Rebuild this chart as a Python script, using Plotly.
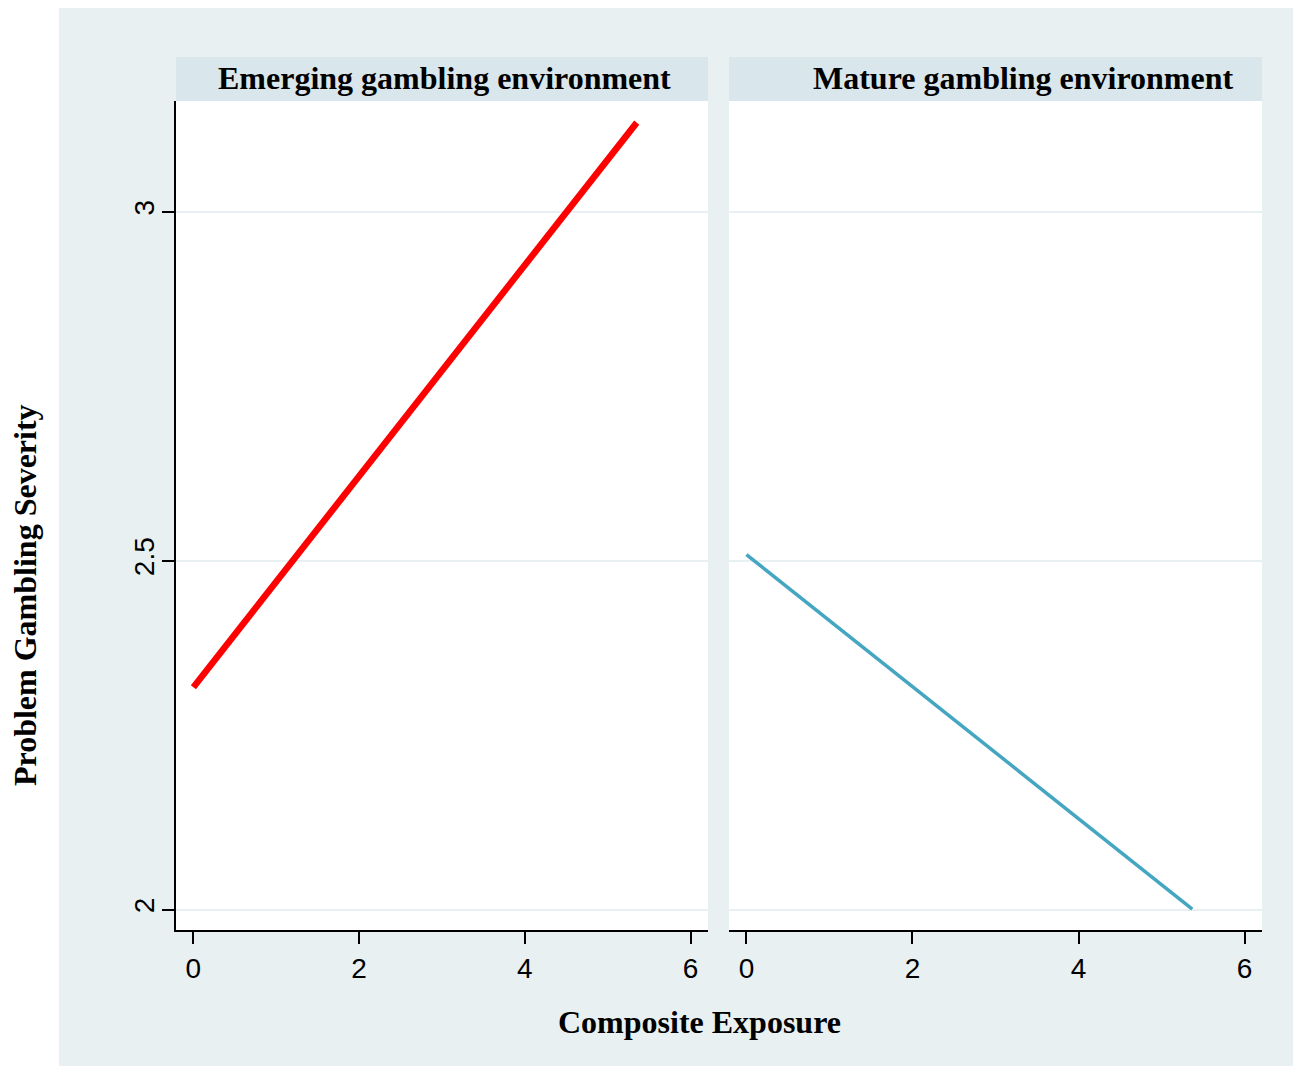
import plotly.graph_objects as go
from plotly.subplots import make_subplots

# Data
panels = ["Emerging gambling environment", "Mature gambling environment"]
emerging_x = [0.0, 5.35]
emerging_y = [2.319, 3.128]
mature_x = [0.0, 5.37]
mature_y = [2.509, 2.001]
x_ticks = [0, 2, 4, 6]
y_ticks = [2, 2.5, 3]
y_ticklabels = ["2", "2.5", "3"]

OFF = 8  # page body margin
W, H = 1301 - OFF, 1066 - OFF
ML, MR, MT, MB = 176 - OFF, 39, 101 - OFF, 136
PW = W - ML - MR
PH = H - MT - MB

def px_x(p):
    return (p - OFF - ML) / PW

def px_y(p):
    return (H - MB - (p - OFF)) / PH

BG = "#e8f0f2"
STRIP = "#d9e6ec"
GRID = "#e8f0f2"

fig = make_subplots(rows=1, cols=2, shared_yaxes=False, horizontal_spacing=0.0)

fig.add_trace(go.Scatter(x=emerging_x, y=emerging_y, mode="lines",
                         line=dict(color="#ff0000", width=6.5), showlegend=False,
                         hoverinfo="skip"), row=1, col=1)
fig.add_trace(go.Scatter(x=mature_x, y=mature_y, mode="lines",
                         line=dict(color="#45a6c2", width=3.5), showlegend=False,
                         hoverinfo="skip"), row=1, col=2)

d1 = [0, px_x(708)]
d2 = [px_x(729), 1]
xr = [-0.21, 6.21]
yr = [1.971, 3.159]
tickfont = dict(family="Liberation Sans, Arial", size=28, color="#000000")

xcommon = dict(range=xr, tickvals=x_ticks, ticktext=[str(t) for t in x_ticks],
               showgrid=False, zeroline=False, showline=True, linecolor="#000000",
               linewidth=2, ticks="outside", ticklen=12, tickwidth=1.5,
               tickcolor="#000000", tickfont=tickfont, fixedrange=True)
fig.update_layout(
    xaxis=dict(domain=d1, **xcommon),
    xaxis2=dict(domain=d2, **xcommon),
    yaxis=dict(range=yr, tickvals=y_ticks, ticktext=y_ticklabels, tickangle=-90,
               showgrid=True, gridcolor=GRID, gridwidth=2, zeroline=False,
               showline=True, linecolor="#000000", linewidth=2, ticks="outside",
               ticklen=12, tickwidth=1.5, tickcolor="#000000", tickfont=tickfont,
               ticklabelstandoff=-3, fixedrange=True),
    yaxis2=dict(range=yr, tickvals=y_ticks, showticklabels=False, showgrid=True,
                gridcolor=GRID, gridwidth=2, zeroline=False, showline=False,
                ticks="", fixedrange=True),
)

shapes = [
    # white strip on the left and top outside the grey panel
    dict(type="rect", xref="paper", yref="paper", x0=px_x(0), x1=px_x(59),
         y0=px_y(1070), y1=px_y(0), fillcolor="#ffffff", line=dict(width=0), layer="below"),
    dict(type="rect", xref="paper", yref="paper", x0=px_x(0), x1=px_x(1320),
         y0=px_y(6), y1=px_y(0), fillcolor="#ffffff", line=dict(width=0), layer="below"),
    dict(type="rect", xref="paper", yref="paper", x0=d1[0], x1=d1[1],
         y0=1.0, y1=px_y(57), fillcolor=STRIP, line=dict(width=0), layer="below"),
    dict(type="rect", xref="paper", yref="paper", x0=d2[0], x1=d2[1],
         y0=1.0, y1=px_y(57), fillcolor=STRIP, line=dict(width=0), layer="below"),
]

titlefont = dict(family="Liberation Serif, Times New Roman", size=32, color="#000000")
annotations = [
    dict(text="<b>" + panels[0] + "</b>", xref="paper", yref="paper",
         x=px_x(444), y=px_y(78), showarrow=False, font=titlefont,
         xanchor="center", yanchor="middle"),
    dict(text="<b>" + panels[1] + "</b>", xref="paper", yref="paper",
         x=px_x(1023), y=px_y(78), showarrow=False, font=titlefont,
         xanchor="center", yanchor="middle"),
    dict(text="<b>Composite Exposure</b>", xref="paper", yref="paper",
         x=px_x(699), y=px_y(1022), showarrow=False, font=titlefont,
         xanchor="center", yanchor="middle"),
    dict(text="<b>Problem Gambling Severity</b>", xref="paper", yref="paper",
         x=px_x(25), y=px_y(595), showarrow=False, font=titlefont, textangle=-90,
         xanchor="center", yanchor="middle"),
]

fig.update_layout(
    width=W, height=H,
    margin=dict(l=ML, r=MR, t=MT, b=MB, pad=0),
    paper_bgcolor=BG, plot_bgcolor="#ffffff",
    shapes=shapes, annotations=annotations, showlegend=False,
)

fig.write_html("out.html")
